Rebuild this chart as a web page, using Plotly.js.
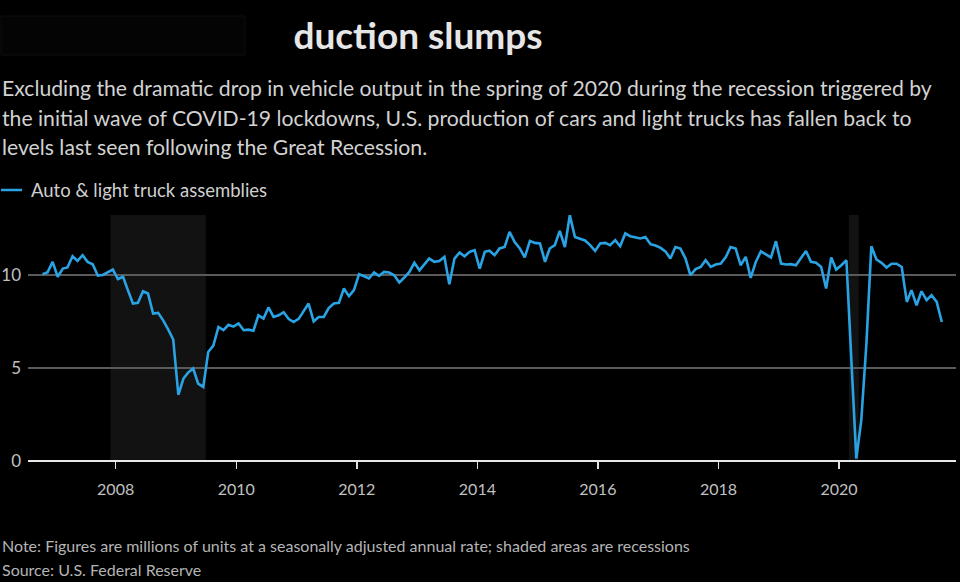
<!DOCTYPE html>
<html>
<head>
<meta charset="utf-8">
<script src="https://cdn.plot.ly/plotly-3.0.1.min.js"></script>
<style>
html,body{margin:0;padding:0;background:#000;}
#chart{width:960px;height:582px;}
</style>
</head>
<body>
<div id="chart"></div>
<script>
// Monthly values, millions of units (SAAR); each array starts at the month given
const startMonth2006 = 10; // series begins October 2006
const v2006 = [10.04, 10.15, 10.7];
const v2007 = [9.9, 10.34, 10.4, 11.0, 10.75, 11.06, 10.7, 10.57, 9.97, 10.0, 10.15, 10.29];
const v2008 = [9.78, 9.9, 9.18, 8.46, 8.5, 9.12, 9.0, 7.92, 7.96, 7.56, 7.06, 6.53];
const v2009 = [3.56, 4.43, 4.75, 4.97, 4.16, 3.98, 5.86, 6.2, 7.2, 7.03, 7.32, 7.22];
const v2010 = [7.39, 7.03, 7.06, 7.0, 7.83, 7.65, 8.25, 7.74, 7.83, 8.0, 7.63, 7.47];
const v2011 = [7.65, 8.1, 8.46, 7.5, 7.74, 7.74, 8.22, 8.46, 8.5, 9.27, 8.86, 9.18];
const v2012 = [10.04, 9.93, 9.81, 10.13, 9.95, 10.16, 10.13, 9.98, 9.59, 9.86, 10.16, 10.65];
const v2013 = [10.25, 10.58, 10.88, 10.7, 10.75, 10.97, 9.5, 10.88, 11.2, 11.0, 11.24, 11.33];
const v2014 = [10.34, 11.24, 11.3, 11.06, 11.42, 11.5, 12.31, 11.77, 11.42, 10.94, 11.83, 11.72];
const v2015 = [11.69, 10.7, 11.42, 11.6, 12.37, 11.5, 13.21, 12.04, 11.95, 11.85, 11.6, 11.29];
const v2016 = [11.69, 11.72, 11.6, 11.87, 11.54, 12.23, 12.08, 12.04, 11.96, 12.04, 11.65, 11.58];
const v2017 = [11.45, 11.25, 10.88, 11.5, 11.42, 10.88, 9.98, 10.31, 10.43, 10.79, 10.43, 10.56];
const v2018 = [10.61, 10.97, 11.5, 11.42, 10.52, 10.97, 9.84, 10.7, 11.27, 11.1, 10.94, 11.81];
const v2019 = [10.61, 10.56, 10.58, 10.52, 10.9, 11.29, 10.7, 10.65, 10.43, 9.27, 10.94, 10.29];
const v2020 = [10.52, 10.79, 5.6, 0.13, 2.19, 6.3, 11.54, 10.83, 10.65, 10.4, 10.6, 10.6];
const v2021 = [10.43, 8.55, 9.18, 8.37, 9.12, 8.64, 8.91, 8.55, 7.47];

const years = [2006, 2007, 2008, 2009, 2010, 2011, 2012, 2013, 2014, 2015, 2016, 2017, 2018, 2019, 2020, 2021];
const yearValues = [v2006, v2007, v2008, v2009, v2010, v2011, v2012, v2013, v2014, v2015, v2016, v2017, v2018, v2019, v2020, v2021];

// Recession periods (shaded)
const recessionStarts = ["2007-12-01", "2020-03-01"];
const recessionEnds = ["2009-06-30", "2020-04-30"];

const seriesName = "Auto & light truck assemblies";
const tickYears = ["2008", "2010", "2012", "2014", "2016", "2018", "2020"];
const yTicks = [0, 5, 10];

const titleText = "duction slumps";
const subtitleLines = [
  "Excluding the dramatic drop in vehicle output in the spring of 2020 during the recession triggered by",
  "the initial wave of COVID-19 lockdowns, U.S. production of cars and light trucks has fallen back to",
  "levels last seen following the Great Recession."
];
const noteText = "Note: Figures are millions of units at a seasonally adjusted annual rate; shaded areas are recessions";
const sourceText = "Source: U.S. Federal Reserve";

// Build dates (mid-month) and values
const xs = [], ys = [];
years.forEach((yr, k) => {
  const first = k === 0 ? startMonth2006 : 1;
  yearValues[k].forEach((v, j) => {
    const m = first + j;
    xs.push(yr + "-" + String(m).padStart(2, "0") + "-15");
    ys.push(v);
  });
});

const W = 960, H = 582;
const L = 28, R = 4, T = 215, B = 121;
const PW = W - L - R, PH = H - T - B;
const px = x => (x - L) / PW;
const py = y => (H - B - y) / PH;

const font = "Lato, 'Source Sans Pro', 'Open Sans', sans-serif";

const shapes = recessionStarts.map((s, i) => ({
  type: "rect", xref: "x", yref: "paper", x0: s, x1: recessionEnds[i], y0: 0, y1: 1,
  fillcolor: "#121212", line: {width: 0}, layer: "below"
}));
// faint box top-left
shapes.push({type: "rect", xref: "paper", yref: "paper", x0: px(1), x1: px(245), y0: py(16), y1: py(55),
  fillcolor: "#040404", line: {color: "#0e0e0e", width: 1}, layer: "below"});
// legend swatch
shapes.push({type: "line", xref: "paper", yref: "paper", x0: px(1), x1: px(22), y0: py(190), y1: py(190),
  line: {color: "#2aa3e4", width: 2.5}});

const annotations = [];
subtitleLines.forEach((t, i) => {
  annotations.push({text: t, xref: "paper", yref: "paper", x: px(0), y: py(88 + i * 29.5),
    xanchor: "left", yanchor: "middle", showarrow: false, font: {family: font, size: 21.2, color: "#d2d2d2"}});
});
annotations.push({text: seriesName, xref: "paper", yref: "paper", x: px(29), y: py(190), xanchor: "left", yanchor: "middle",
  showarrow: false, font: {family: font, size: 18.5, color: "#cfcfcf"}});
annotations.push({text: noteText, xref: "paper", yref: "paper", x: px(0), y: py(545), xanchor: "left", yanchor: "middle",
  showarrow: false, font: {family: font, size: 16, color: "#b4b4b4"}});
annotations.push({text: sourceText, xref: "paper", yref: "paper", x: px(0), y: py(569), xanchor: "left", yanchor: "middle",
  showarrow: false, font: {family: font, size: 16, color: "#b4b4b4"}});

const trace = {
  x: xs, y: ys, type: "scatter", mode: "lines", name: seriesName,
  line: {color: "#2aa3e4", width: 2.6}, hoverinfo: "skip", showlegend: false
};

const layout = {
  width: W, height: H,
  margin: {l: L, r: R, t: T, b: B, pad: 0},
  paper_bgcolor: "#000", plot_bgcolor: "rgba(0,0,0,0)",
  font: {family: font, color: "#c8c8c8"},
  title: {text: "<b>" + titleText + "</b>", x: 418 / W, xanchor: "center", xref: "container",
    y: 1 - 36 / H, yanchor: "middle", yref: "container", font: {family: font, size: 37, color: "#e6e6e6"}},
  showlegend: false,
  xaxis: {
    type: "date", range: ["2006-07-19", "2021-12-10"],
    tickvals: tickYears.map(y => y + "-01-01"), ticktext: tickYears,
    ticks: "outside", ticklen: 7, tickwidth: 1.5, tickcolor: "#e0e0e0",
    showgrid: false, zeroline: false, showline: false,
    tickfont: {family: font, size: 16, color: "#c0c0c0"}, ticklabelstandoff: 7
  },
  yaxis: {
    range: [0, 13.22], tickvals: yTicks, ticktext: yTicks.map(String),
    showgrid: true, gridcolor: "#5a5a5a", gridwidth: 1.2,
    zeroline: true, zerolinecolor: "#e8e8e8", zerolinewidth: 2,
    showline: false, ticks: "",
    tickfont: {family: font, size: 17, color: "#c0c0c0"}, ticklabelstandoff: 6
  },
  shapes: shapes,
  annotations: annotations
};

Plotly.newPlot("chart", [trace], layout, {displayModeBar: false, staticPlot: true});
</script>
</body>
</html>
